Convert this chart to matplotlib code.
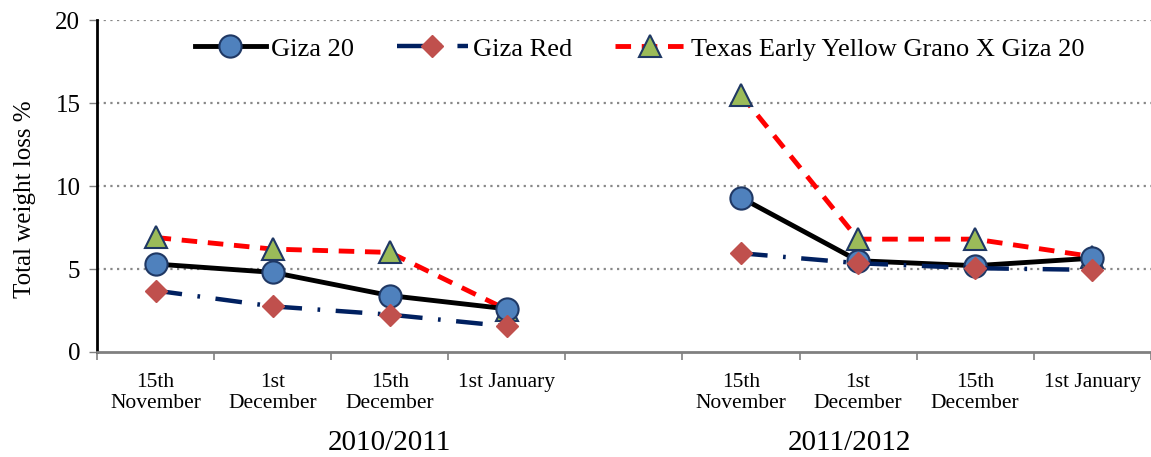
import matplotlib
matplotlib.use("Agg")
import matplotlib.pyplot as plt
import numpy as np

# categories (index 4 is the empty gap between seasons)
dates = ["15th\nNovember", "1st\nDecember", "15th\nDecember", "1st January", "",
         "15th\nNovember", "1st\nDecember", "15th\nDecember", "1st January"]
seasons = ["2010/2011", "2011/2012"]

giza20 = [5.3, 4.8, 3.4, 2.6, np.nan, 9.3, 5.5, 5.2, 5.65]
giza_red = [3.7, 2.75, 2.25, 1.55, np.nan, 5.95, 5.35, 5.05, 4.95]
texas = [6.9, 6.2, 6.0, 2.55, np.nan, 15.5, 6.8, 6.8, 5.75]

plt.rcParams['font.family'] = ['Liberation Serif', 'DejaVu Serif']

fig = plt.figure(figsize=(11.51, 4.57), dpi=100)
ax = fig.add_axes([0.0843, 0.2298, 0.9155, 0.7262])

x = np.arange(len(dates))
edge = '#1F3864'

ax.plot(x, giza20, color='black', lw=3.5, marker='o', ms=16,
        mfc='#4F81BD', mec=edge, mew=1.5, label='Giza 20', zorder=4)
ax.plot(x, giza_red, color='#002060', lw=3.2, dashes=(6, 3.5, 0.6, 3.5),
        marker='D', ms=11.5, mfc='#C0504D', mec='#C0504D', label='Giza Red', zorder=5)
ax.plot(x, texas, color='#FF0000', lw=3.5, dashes=(3.2, 2.2),
        marker='^', ms=16, mfc='#9BBB59', mec=edge, mew=1.5,
        label='Texas Early Yellow Grano X Giza 20', zorder=3)

ax.set_xlim(-0.5, 8.5)
ax.set_ylim(0, 20)
ax.set_yticks([0, 5, 10, 15, 20])
ax.tick_params(axis='y', labelsize=18, color='#808080', length=6, width=1, pad=6)
for yv in [5, 10, 15, 20]:
    ax.axhline(yv, color='#888888', lw=1.6, ls=(0, (1, 2)), zorder=1)

ax.set_xticks(x)
ax.set_xticklabels(dates, fontsize=15.5, linespacing=1.15)
ax.set_xticks(np.arange(-0.5, 9, 1), minor=True)
ax.tick_params(axis='x', which='major', length=0, pad=15)
ax.tick_params(axis='x', which='minor', length=6, color='#808080', width=1.2)

for s in ['top', 'right']:
    ax.spines[s].set_visible(False)
ax.spines['left'].set_color('black')
ax.spines['left'].set_linewidth(2)
ax.spines['bottom'].set_color('#808080')
ax.spines['bottom'].set_linewidth(2)

ax.set_ylabel("Total weight loss %", fontsize=18, labelpad=14)
ax.yaxis.label.set_y(0.46)

ax.text(2.0, -0.275, seasons[0], transform=ax.get_xaxis_transform(),
        ha='center', va='center', fontsize=21)
ax.text(5.93, -0.275, seasons[1], transform=ax.get_xaxis_transform(),
        ha='center', va='center', fontsize=21)

leg = ax.legend(loc='upper center', bbox_to_anchor=(0.515, 1.0), ncol=3,
                frameon=True, fontsize=19, handlelength=2.7, columnspacing=1.6,
                handletextpad=0.2, borderpad=0.15)
leg.get_frame().set_edgecolor('none')
leg.get_frame().set_facecolor('white')
leg.get_frame().set_alpha(1)

fig.savefig("out.png", dpi=100)
